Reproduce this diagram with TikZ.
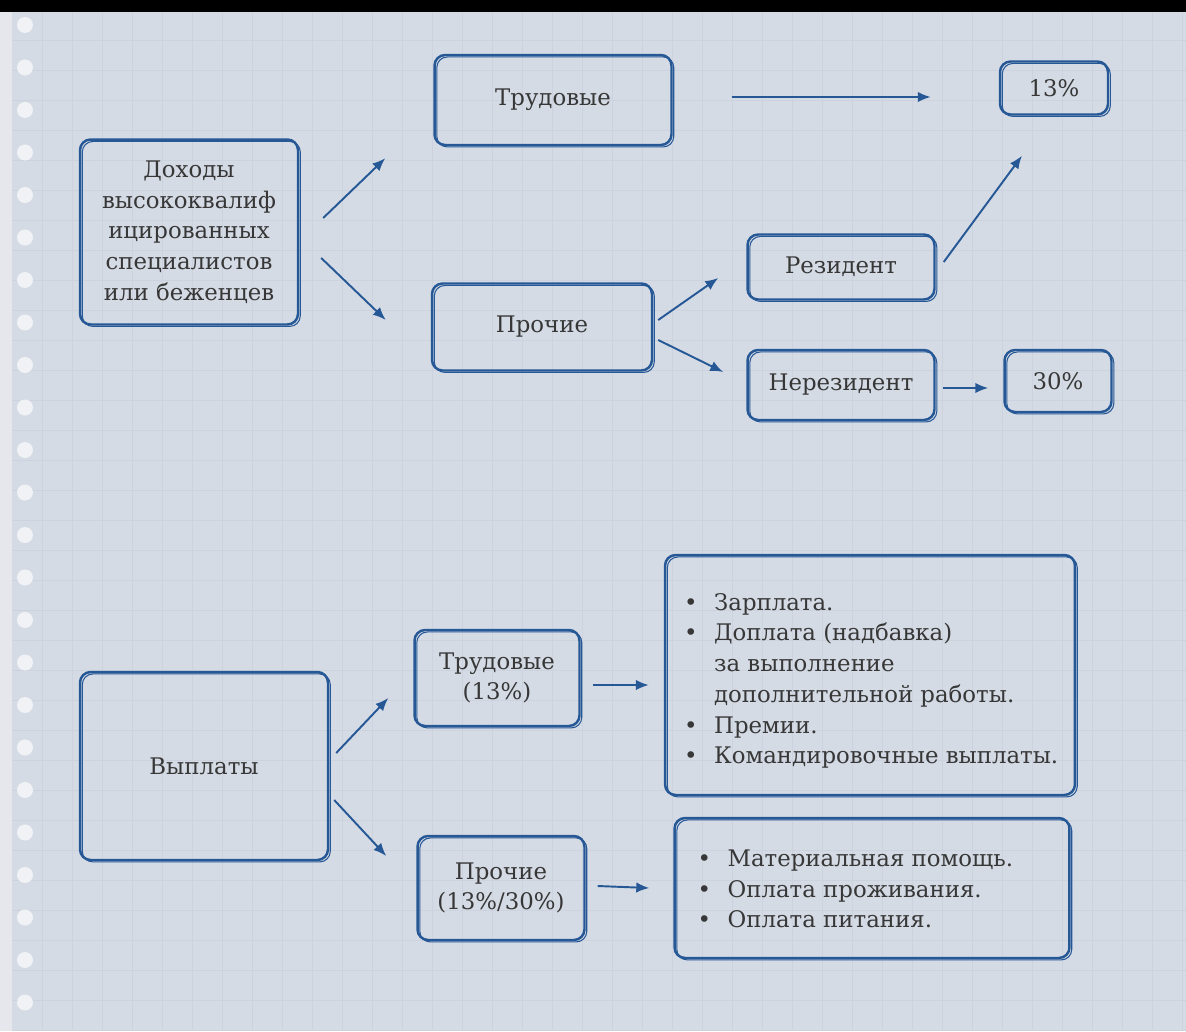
\documentclass[tikz,border=0pt]{standalone}
\usepackage{fontspec}
\setmainfont{DejaVu Serif}
\usetikzlibrary{arrows.meta, positioning}
\definecolor{cPaper}{RGB}{213,219,229}
\definecolor{cEdge}{RGB}{229,231,236}
\definecolor{cHole}{RGB}{240,242,245}
\definecolor{cGrid}{RGB}{204,211,222}
\definecolor{cInk}{RGB}{38,88,150}
\definecolor{cText}{RGB}{55,55,55}
\tikzset{
	sketchbox/.style={rectangle, draw=cInk, line width=1.4pt, rounded corners=6pt, align=center, text=cText,
		postaction={draw=cInk, line width=0.6pt, transform canvas={shift={(1.3pt,-1.1pt)}}}},
	listtxt/.style  ={align=left, text=cText, inner sep=0pt},
	inkarrow/.style ={-{Latex[length=2.6mm, width=2.1mm]}, draw=cInk, line width=1.1pt},
}
\newcommand{\bul}{\makebox[0.6cm][l]{\textbullet}}
\newcommand{\nobul}{\hspace*{0.6cm}}
\begin{document}
\begin{tikzpicture}[x=0.02cm, y=-0.02cm, font=\fontsize{13}{17.5}\selectfont]
	% ---------- paper ----------
	\useasboundingbox (0,0) rectangle (1186,1031);
	\fill[cEdge] (0,0) rectangle (1186,1031);
	\fill[cPaper] (12,12) rectangle (1186,1031);
	\foreach \gx in {42,72,...,1182} \draw[cGrid, line width=0.25pt] (\gx,12) -- (\gx,1031);
	\foreach \gy in {40,70,...,1030} \draw[cGrid, line width=0.25pt] (12,\gy) -- (1186,\gy);
	\foreach \hy in {25,67.5,...,1010} \fill[cHole] (25,\hy) circle (8);
	\fill[black] (0,0) rectangle (1186,12);
	% ---------- income tree ----------
	\node[sketchbox, minimum width=4.36cm, minimum height=3.7cm] (income) at (189,232)
		{Доходы\\высококвалиф\\ицированных\\специалистов\\или беженцев};
	\node[sketchbox, minimum width=4.74cm, minimum height=1.8cm] (labtop) at (553,100) {Трудовые};
	\node[sketchbox, minimum width=4.4cm, minimum height=1.74cm] (othtop) at (542,327) {Прочие};
	\node[sketchbox, minimum width=2.16cm, minimum height=1.06cm] (rate13) at (1054,88) {13\%};
	\node[sketchbox, minimum width=3.74cm, minimum height=1.3cm] (resid) at (841,267) {Резидент};
	\node[sketchbox, minimum width=3.74cm, minimum height=1.4cm] (nonres) at (841,385) {Нерезидент};
	\node[sketchbox, minimum width=2.14cm, minimum height=1.24cm] (rate30) at (1058,381) {30\%};
	\draw[inkarrow] ([shift={(24,-14)}]income.east) -- ([shift={(-48,12)}]labtop.south west);
	\draw[inkarrow] ([shift={(22,26)}]income.east) -- ([shift={(-45,-7)}]othtop.west);
	\draw[inkarrow] ([shift={(59,-3)}]labtop.east) -- ([shift={(-68,9)}]rate13.west);
	\draw[inkarrow] ([shift={(5,-7)}]othtop.east) -- ([shift={(-28,11)}]resid.west);
	\draw[inkarrow] ([shift={(5,13)}]othtop.east) -- ([shift={(-23,-13)}]nonres.west);
	\draw[inkarrow] ([shift={(8,-5)}]resid.east) -- ([shift={(-32,40)}]rate13.south);
	\draw[inkarrow] ([shift={(7,3)}]nonres.east) -- ([shift={(-15,7)}]rate30.west);
	% ---------- payments tree ----------
	\node[sketchbox, minimum width=4.96cm, minimum height=3.76cm] (pay) at (204,766) {Выплаты};
	\node[sketchbox, minimum width=3.3cm, minimum height=1.92cm] (labbot) at (497,678) {Трудовые\\(13\%)};
	\node[sketchbox, minimum width=3.34cm, minimum height=2.08cm] (othbot) at (501,888) {Прочие\\(13\%/30\%)};
	\node[sketchbox, minimum width=8.2cm, minimum height=4.8cm] (labkinds) at (870,675) {};
	\node[listtxt, anchor=west] (labtxt) at ([shift={(20,6)}]labkinds.west)
		{\bul Зарплата.\\\bul Доплата (надбавка)\\\nobul за выполнение\\\nobul дополнительной работы.\\\bul Премии.\\\bul Командировочные выплаты.};
	\node[sketchbox, minimum width=7.9cm, minimum height=2.8cm] (othkinds) at (872,888) {};
	\node[listtxt, anchor=west] (othtxt) at ([shift={(24,1)}]othkinds.west)
		{\bul Материальная помощь.\\\bul Оплата проживания.\\\bul Оплата питания.};
	\draw[inkarrow] ([shift={(7,-13)}]pay.east) -- ([shift={(-25,20)}]labbot.west);
	\draw[inkarrow] ([shift={(5,34)}]pay.east) -- ([shift={(-30,-32)}]othbot.west);
	\draw[inkarrow] ([shift={(12,7)}]labbot.east) -- ([shift={(-15,10)}]labkinds.west);
	\draw[inkarrow] ([shift={(12,-2)}]othbot.east) -- ([shift={(-24,0)}]othkinds.west);
\end{tikzpicture}
\end{document}
